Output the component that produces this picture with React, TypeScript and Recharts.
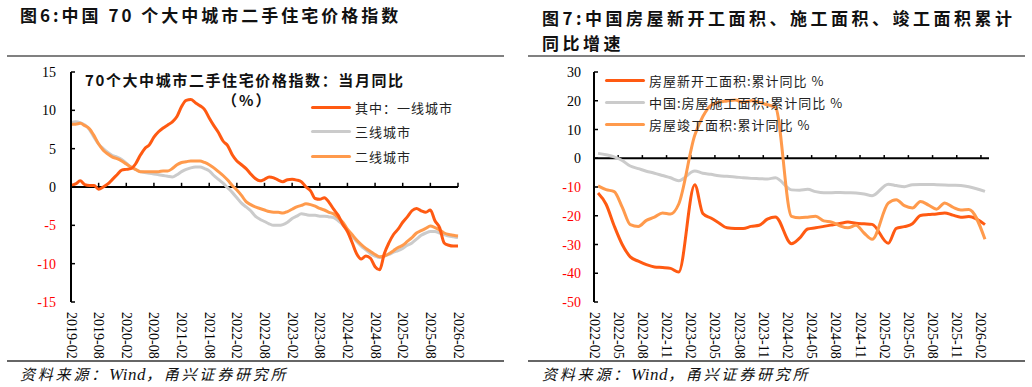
import { LineChart, Line, XAxis, YAxis, ReferenceLine } from "recharts"

// ---- colours
const RED = "#FF5A12"
const GREY = "#CBCBCB"
const ORANGE = "#FF9A4C"
const NEG = "#FF0000"

// ---- figure 6: 70-city second-hand price index, YoY (%), monthly 2019-02 .. 2026-02
const TIER1 = [
  0.2, 0.4, 0.8, 0.3, 0.2, 0.2, -0.3, 0.0, 0.4, 1.0,
  1.6, 2.2, 2.3, 2.4, 3.0, 4.1, 5.0, 5.5, 6.5, 7.2,
  7.7, 8.1, 8.5, 9.2, 10.5, 11.3, 11.4, 11.0, 10.6, 10.1,
  9.0, 8.0, 7.1, 6.0, 5.4, 4.2, 3.4, 2.9, 2.4, 1.7,
  1.1, 0.8, 1.0, 1.3, 1.2, 0.9, 0.7, 0.95, 1.0, 0.9,
  0.7, 0.0, -0.5, -1.5, -1.6, -1.4, -2.0, -2.9, -3.7, -4.9,
  -5.8, -7.2, -8.7, -9.4, -9.0, -9.3, -10.4, -10.8, -8.7, -7.3,
  -6.2, -5.5, -4.6, -3.9, -3.1, -2.8, -3.1, -3.3, -3.0, -4.4,
  -5.3, -7.3, -7.6, -7.7, -7.7,
]
const TIER2 = [
  8.2, 8.2, 8.3, 8.0, 7.6, 6.7, 5.6, 4.8, 4.3, 3.9,
  3.7, 3.4, 3.0, 2.6, 2.3, 2.0, 2.0, 2.0, 2.0, 2.0,
  2.1, 2.1, 2.4, 2.9, 3.2, 3.3, 3.4, 3.4, 3.4, 3.2,
  2.9, 2.5, 2.0, 1.5, 0.9, 0.2, -0.4, -1.1, -1.9, -2.3,
  -2.6, -2.8, -3.0, -3.2, -3.3, -3.3, -3.4, -3.2, -2.9, -2.6,
  -2.4, -2.2, -2.3, -2.5, -2.8, -3.0, -3.3, -3.5, -4.0, -4.6,
  -5.5, -6.2, -6.9, -7.5, -8.0, -8.4, -8.8, -9.1, -9.0, -8.7,
  -8.3, -7.9, -7.6, -7.1, -6.6, -6.0, -5.7, -5.4, -5.1, -5.3,
  -5.6, -6.0, -6.2, -6.3, -6.4,
]
const TIER3 = [
  8.4, 8.5, 8.4, 8.1, 7.5, 6.5, 5.6, 5.0, 4.5, 4.1,
  3.9, 3.6, 3.1, 2.6, 2.3, 2.0, 1.9, 1.8, 1.7, 1.6,
  1.5, 1.4, 1.3, 1.6, 2.0, 2.3, 2.5, 2.6, 2.6, 2.4,
  2.1, 1.5, 1.0, 0.5, -0.1, -0.7, -1.4, -2.1, -2.6, -3.1,
  -3.8, -4.2, -4.5, -4.8, -5.0, -5.0, -4.9, -4.6, -4.1, -3.8,
  -3.5, -3.6, -3.7, -3.7, -3.8, -3.8, -3.9, -4.0, -4.4, -4.9,
  -5.6, -6.4, -7.1, -7.7, -8.2, -8.7, -9.0, -9.2, -9.0, -8.8,
  -8.5, -8.3, -8.0, -7.6, -7.3, -6.8, -6.3, -6.0, -5.8, -5.8,
  -6.0, -6.2, -6.4, -6.5, -6.6,
]
const LEFT_Y_TICKS = [-15, -10, -5, 0, 5, 10, 15]

// ---- figure 7: floor space, cumulative YoY (%), Feb..Dec each year (no January print)
const NEW_STARTS = [
  -12.1, -16.0, -23.5, -30.0, -34.3, -35.8, -37.0, -37.8, -38.0, -38.3, -39.6,
  -9.2, -19.2, -20.8, -22.5, -24.2, -24.4, -24.4, -23.7, -23.3, -21.2, -20.4,
  -29.7, -27.8, -24.6, -24.2, -23.7, -23.2, -22.7, -22.2, -22.6, -22.8, -23.0,
  -29.6, -24.4, -23.8, -22.8, -19.9, -19.6, -19.4, -19.0, -19.8, -20.5, -20.3,
  -23.1,
]
const UNDER_CONSTRUCTION = [
  1.7, 1.2, 0.5, -0.8, -2.7, -3.6, -4.5, -5.2, -6.0, -6.8, -7.8,
  -4.4, -5.2, -5.6, -6.1, -6.3, -6.5, -6.8, -7.0, -7.1, -7.2, -6.8,
  -11.0, -11.1, -10.8, -11.6, -12.0, -12.0, -11.9, -12.0, -12.1, -12.4, -13.0,
  -9.0, -9.5, -9.9, -9.2, -9.1, -9.1, -9.2, -9.3, -9.4, -9.5, -9.9,
  -11.5,
]
const COMPLETIONS = [
  -9.6, -10.9, -11.6, -17.0, -23.1, -23.7, -21.6, -20.5, -19.0, -19.4, -16.0,
  8.0, 14.5, 18.4, 19.5, 19.9, 20.3, 19.5, 20.0, 19.5, 18.6, 17.8,
  -20.2, -20.7, -20.5, -20.2, -21.8, -22.2, -23.5, -24.2, -23.3, -26.0, -28.2,
  -15.6, -14.4, -16.5, -17.3, -15.0, -16.3, -17.7, -15.6, -17.0, -18.0, -17.8,
  -28.2,
]
const RIGHT_Y_TICKS = [-50, -40, -30, -20, -10, 0, 10, 20, 30]

function monthLabels(year: number, month: number, count: number) {
  const out: string[] = []
  for (let i = 0; i < count; i++) {
    const k = month - 1 + i
    const y = year + Math.floor(k / 12)
    const m = (k % 12) + 1
    out.push(`${y}-${String(m).padStart(2, "0")}`)
  }
  return out
}

const LEFT_MONTHS = monthLabels(2019, 2, 85)
const leftRows = LEFT_MONTHS.map((month, i) => ({
  month,
  tier1: TIER1[i],
  tier2: TIER2[i],
  tier3: TIER3[i],
}))
const LEFT_X_TICKS = LEFT_MONTHS.filter((_, i) => i % 6 === 0)

const RIGHT_AXIS_MONTHS = monthLabels(2022, 2, 49)
const RIGHT_MONTHS = RIGHT_AXIS_MONTHS.filter((m) => !m.endsWith("-01"))
// each monthly print sits in the middle of its month on the date axis
const rightRows = RIGHT_MONTHS.map((month, i) => ({
  t: RIGHT_AXIS_MONTHS.indexOf(month) + 0.5,
  starts: NEW_STARTS[i],
  construction: UNDER_CONSTRUCTION[i],
  completions: COMPLETIONS[i],
}))
const RIGHT_X_TICKS = RIGHT_AXIS_MONTHS.map((_, i) => i).filter((i) => i % 3 === 0)

const SERIF = "'Liberation Serif', 'Times New Roman', serif"
const CJK = "'Noto Sans CJK SC', sans-serif"

function XTick({ x, y, payload, format }: any) {
  const label = format ? format(payload.value) : payload.value
  const ty = y + 2
  return (
    <text
      x={x}
      y={ty}
      transform={`rotate(90 ${x} ${ty})`}
      textAnchor="start"
      dominantBaseline="central"
      fontFamily={SERIF}
      fontSize={14}
      fill="#000"
    >
      {label}
    </text>
  )
}

function YTick({ x, y, payload }: any) {
  return (
    <text
      x={x}
      y={y}
      dy={5}
      textAnchor="end"
      fontFamily={SERIF}
      fontSize={14}
      fill={payload.value < 0 ? NEG : "#000"}
    >
      {payload.value}
    </text>
  )
}

function LegendBox({ items, left, top, gap }: { items: { label: string; color: string }[]; left: number; top: number; gap: number }) {
  return (
    <div style={{ position: "absolute", left, top }}>
      {items.map((it) => (
        <div key={it.label} style={{ display: "flex", alignItems: "center", height: gap }}>
          <div style={{ width: 40, height: 3, background: it.color, borderRadius: 2 }} />
          <span style={{ marginLeft: 4, fontFamily: CJK, fontSize: 13, letterSpacing: 1, color: "#222" }}>
            {it.label}
          </span>
        </div>
      ))}
    </div>
  )
}

const rule = (left: number, top: number, width: number, h: number, color: string) => (
  <div style={{ position: "absolute", left, top, width, height: h, background: color }} />
)

export default function App() {
  return (
    <div style={{ position: "absolute", left: 0, top: 0, width: 1032, height: 387, background: "#fff", overflow: "hidden" }}>
      {/* titles */}
      <div style={{ position: "absolute", left: 20, top: 5, fontFamily: CJK, fontWeight: 700, fontSize: 17, letterSpacing: 3, lineHeight: "20px", color: "#111", whiteSpace: "nowrap" }}>
        图6:中国 70 个大中城市二手住宅价格指数
      </div>
      <div style={{ position: "absolute", left: 542, top: 5, fontFamily: CJK, fontWeight: 700, fontSize: 17, letterSpacing: 3.5, lineHeight: "25px", color: "#111", whiteSpace: "nowrap" }}>
        图7:中国房屋新开工面积、施工面积、竣工面积累计
        <br />
        同比增速
      </div>
      {rule(7, 55, 497, 2, "#808080")}
      {rule(528, 55, 497, 2, "#808080")}
      {rule(7, 360, 497, 1.5, "#666")}
      {rule(528, 360, 497, 1.5, "#666")}

      {/* left chart */}
      <div style={{ position: "absolute", left: 0, top: 0 }}>
        <LineChart width={516} height={387} data={leftRows} margin={{ top: 72, right: 58, bottom: 25, left: 21 }}>
          <XAxis
            dataKey="month"
            interval={5}
            axisLine={false}
            tickLine={false}
            height={60}
            padding={{ left: 0, right: 0 }}
            tick={<XTick />}
          />
          <YAxis
            domain={[-15, 15]}
            ticks={LEFT_Y_TICKS}
            width={50}
            axisLine={{ stroke: "#000", strokeWidth: 2 }}
            tickLine={{ stroke: "#000", strokeWidth: 1.5 }}
            tickSize={-4}
            tickMargin={19}
            tick={<YTick />}
            allowDataOverflow
          />
          <ReferenceLine y={0} stroke="#000" strokeWidth={2} />
          {LEFT_X_TICKS.slice(1).map((m) => (
            <ReferenceLine key={m} segment={[{ x: m, y: 0 }, { x: m, y: 0.55 }]} stroke="#000" strokeWidth={1.5} />
          ))}
          <Line type="monotone" dataKey="tier3" stroke={GREY} strokeWidth={3} dot={false} isAnimationActive={false} />
          <Line type="monotone" dataKey="tier2" stroke={ORANGE} strokeWidth={3} dot={false} isAnimationActive={false} />
          <Line type="monotone" dataKey="tier1" stroke={RED} strokeWidth={3} dot={false} isAnimationActive={false} />
        </LineChart>
      </div>
      <div style={{ position: "absolute", left: 85, top: 70, fontFamily: CJK, fontWeight: 700, fontSize: 15, letterSpacing: 1.6, lineHeight: "20px", color: "#111", whiteSpace: "nowrap" }}>
        70个大中城市二手住宅价格指数：当月同比
      </div>
      <div style={{ position: "absolute", left: 222, top: 90, fontFamily: CJK, fontWeight: 700, fontSize: 15, letterSpacing: 2, lineHeight: "20px", color: "#111", whiteSpace: "nowrap" }}>
        （%）
      </div>
      <LegendBox
        left={311}
        top={95}
        gap={24.5}
        items={[
          { label: "其中：一线城市", color: RED },
          { label: "三线城市", color: GREY },
          { label: "二线城市", color: ORANGE },
        ]}
      />

      {/* right chart */}
      <div style={{ position: "absolute", left: 516, top: 0 }}>
        <LineChart width={516} height={387} data={rightRows} margin={{ top: 72, right: 43, bottom: 25, left: 28 }}>
          <XAxis
            dataKey="t"
            type="number"
            domain={[0, 49]}
            ticks={RIGHT_X_TICKS}
            axisLine={false}
            tickLine={false}
            height={60}
            tick={<XTick format={(v: number) => RIGHT_AXIS_MONTHS[v]} />}
          />
          <YAxis
            domain={[-50, 30]}
            ticks={RIGHT_Y_TICKS}
            width={50}
            axisLine={{ stroke: "#000", strokeWidth: 2 }}
            tickLine={{ stroke: "#000", strokeWidth: 1.5 }}
            tickSize={-4}
            tickMargin={17}
            tick={<YTick />}
            allowDataOverflow
          />
          <ReferenceLine y={0} stroke="#000" strokeWidth={2} />
          {RIGHT_X_TICKS.slice(1).map((t) => (
            <ReferenceLine key={t} segment={[{ x: t, y: 0 }, { x: t, y: 1.1 }]} stroke="#000" strokeWidth={1.5} />
          ))}
          <Line type="monotone" dataKey="starts" stroke={RED} strokeWidth={3} dot={false} isAnimationActive={false} />
          <Line type="monotone" dataKey="construction" stroke={GREY} strokeWidth={3} dot={false} isAnimationActive={false} />
          <Line type="monotone" dataKey="completions" stroke={ORANGE} strokeWidth={3} dot={false} isAnimationActive={false} />
        </LineChart>
      </div>
      <LegendBox
        left={605}
        top={69}
        gap={22}
        items={[
          { label: "房屋新开工面积:累计同比 %", color: RED },
          { label: "中国:房屋施工面积:累计同比 %", color: GREY },
          { label: "房屋竣工面积:累计同比 %", color: ORANGE },
        ]}
      />

      {/* sources */}
      {[20, 542].map((left) => (
        <div key={left} style={{ position: "absolute", left, top: 364, fontFamily: CJK, fontStyle: "italic", fontSize: 15, letterSpacing: 2.8, lineHeight: "20px", color: "#111", whiteSpace: "nowrap" }}>
          资料来源：<span style={{ fontFamily: SERIF, fontSize: 17, letterSpacing: 0.5 }}>Wind</span>，甬兴证券研究所
        </div>
      ))}
    </div>
  )
}
